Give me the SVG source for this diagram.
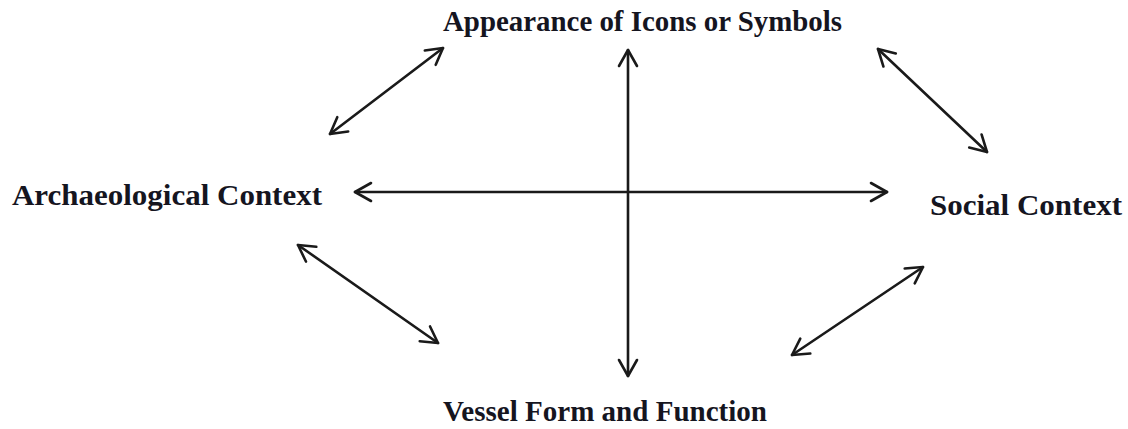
<svg xmlns="http://www.w3.org/2000/svg" width="1128" height="429" viewBox="0 0 1128 429">
<defs>
<style>
.lbl{font-family:"Liberation Serif","Times New Roman",Times,serif;font-weight:bold;font-size:30px;fill:#15151f}
.con{stroke:#1a1a1a;stroke-width:2.6;fill:none;stroke-linecap:round}
</style>
<marker id="ah" markerUnits="userSpaceOnUse" markerWidth="30" markerHeight="30" viewBox="-20 -15 30 30" refX="0" refY="0" orient="auto-start-reverse">
<path d="M-16,-9 L0,0 L-16,9" fill="none" stroke="#1a1a1a" stroke-width="2.6" stroke-linecap="round" stroke-linejoin="round"/>
</marker>
</defs>
<rect width="1128" height="429" fill="#ffffff"/>
<g id="node-appearance"><text class="lbl" x="443" y="31" textLength="399" lengthAdjust="spacingAndGlyphs">Appearance of Icons or Symbols</text></g>
<g id="node-archaeological"><text class="lbl" x="12" y="205" textLength="310" lengthAdjust="spacingAndGlyphs">Archaeological Context</text></g>
<g id="node-social"><text class="lbl" x="930" y="215" textLength="192" lengthAdjust="spacingAndGlyphs">Social Context</text></g>
<g id="node-vessel"><text class="lbl" x="443" y="421" textLength="324" lengthAdjust="spacingAndGlyphs">Vessel Form and Function</text></g>
<g id="connectors">
<line class="con" x1="355" y1="192" x2="887" y2="192" marker-start="url(#ah)" marker-end="url(#ah)"/>
<line class="con" x1="628" y1="50" x2="628" y2="376" marker-start="url(#ah)" marker-end="url(#ah)"/>
<line class="con" x1="330" y1="134" x2="443" y2="48" marker-start="url(#ah)" marker-end="url(#ah)"/>
<line class="con" x1="878" y1="49" x2="987" y2="152" marker-start="url(#ah)" marker-end="url(#ah)"/>
<line class="con" x1="298" y1="245" x2="438" y2="343" marker-start="url(#ah)" marker-end="url(#ah)"/>
<line class="con" x1="923" y1="267" x2="792" y2="355" marker-start="url(#ah)" marker-end="url(#ah)"/>
</g>
</svg>
